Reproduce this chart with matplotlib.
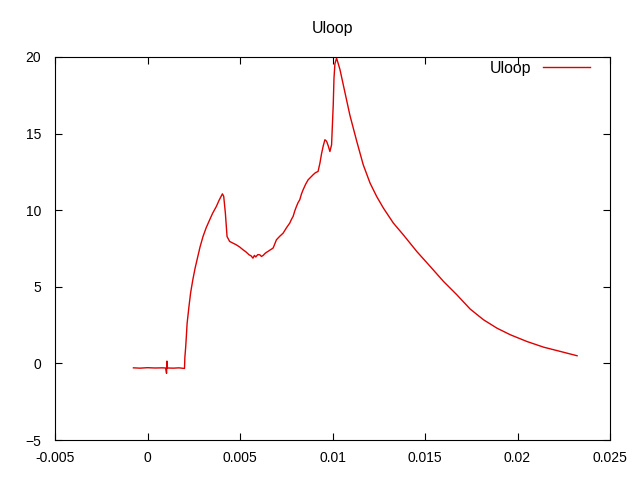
import numpy as np
import matplotlib
matplotlib.use('Agg')
import matplotlib.pyplot as plt

plt.rcParams['font.family'] = ['Liberation Sans', 'DejaVu Sans']
plt.rcParams['font.size'] = 10

# Uloop trace
t = [-0.00076, -0.00040, 0.00000, 0.00040, 0.00080, 0.00098, 0.00103, 0.00105,
     0.00108, 0.00140, 0.00170, 0.00200, 0.00202, 0.00206, 0.00210, 0.00214,
     0.00224, 0.00233, 0.00245, 0.00257, 0.00272, 0.00284, 0.00300, 0.00317,
     0.00336, 0.00352, 0.00372, 0.00387, 0.00405, 0.00412, 0.00421,
     0.00430, 0.00444, 0.00462, 0.00480, 0.00498, 0.00516, 0.00532, 0.00549,
     0.00560, 0.00570, 0.00578, 0.00585, 0.00596, 0.00607, 0.00616, 0.00625,
     0.00637, 0.00650, 0.00665, 0.00679, 0.00688, 0.00697, 0.00715, 0.00733,
     0.00751, 0.00769, 0.00778, 0.00787, 0.00796, 0.00805, 0.00814, 0.00823,
     0.00832, 0.00841, 0.00855, 0.00868, 0.00882, 0.00895, 0.00908, 0.00922,
     0.00932, 0.00941, 0.00950, 0.00959, 0.00968, 0.00977, 0.00986, 0.00995,
     0.01004, 0.01008, 0.01013, 0.01022, 0.01040, 0.01058, 0.01094,
     0.01131, 0.01166, 0.01203, 0.01239, 0.01275, 0.01329,
     0.01383, 0.01456, 0.01528, 0.01600,
     0.01672, 0.01744, 0.01816, 0.01889, 0.01961, 0.02051, 0.02141, 0.02232,
     0.02322]
uloop = [-0.29, -0.31, -0.28, -0.30, -0.29, -0.30, -0.65, 0.15,
         -0.30, -0.31, -0.29, -0.33, 0.40, 1.00, 1.76, 2.60,
         3.70, 4.60, 5.46, 6.20, 6.98, 7.60, 8.28, 8.85,
         9.37, 9.80, 10.24, 10.65, 11.07, 10.90, 9.80,
         8.28, 7.96, 7.85, 7.74, 7.60, 7.42, 7.28, 7.09,
         7.02, 6.87, 7.05, 6.95, 7.10, 7.09, 6.98, 7.05,
         7.20, 7.30, 7.42, 7.53, 7.80, 8.07, 8.30, 8.50,
         8.85, 9.16, 9.40, 9.59, 9.95, 10.24, 10.50, 10.68,
         11.05, 11.33, 11.70, 11.98, 12.15, 12.31, 12.45, 12.53,
         13.07, 13.70, 14.20, 14.60, 14.50, 14.20, 13.83, 14.27,
         16.88, 18.60, 19.55, 19.93, 19.20, 18.20, 16.20,
         14.50, 12.97, 11.77, 10.89, 10.14, 9.16,
         8.39, 7.30, 6.33, 5.35,
         4.48, 3.55, 2.85, 2.30, 1.87, 1.43, 1.06, 0.78,
         0.50]

x_ticks = [-0.005, 0, 0.005, 0.01, 0.015, 0.02, 0.025]
x_labels = ['-0.005', '0', '0.005', '0.01', '0.015', '0.02', '0.025']
y_ticks = [-5, 0, 5, 10, 15, 20]

fig = plt.figure(figsize=(6.4, 4.8), dpi=100)
ax = fig.add_axes([55 / 640, 40 / 480, 555 / 640, 383 / 480])

ax.plot(t, uloop, color='#dd0000', linewidth=1.0, label='Uloop')

ax.set_xlim(-0.005, 0.025)
ax.set_ylim(-5, 20)
ax.set_xticks(x_ticks)
ax.set_xticklabels(x_labels)
ax.set_yticks(y_ticks)
ax.tick_params(direction='in', length=5, width=0.8, top=True, right=True)
ax.tick_params(axis='y', pad=10)
ax.tick_params(axis='x', pad=8)
for s in ax.spines.values():
    s.set_linewidth(0.8)

ax.set_title('Uloop', pad=17, fontsize=11.4)
ax.legend(loc='upper right', bbox_to_anchor=(0.964, 0.99), frameon=False,
          markerfirst=False, handlelength=3.0, handletextpad=0.7,
          borderaxespad=0, borderpad=0, fontsize=11.4)

fig.savefig('out.png', dpi=100)
